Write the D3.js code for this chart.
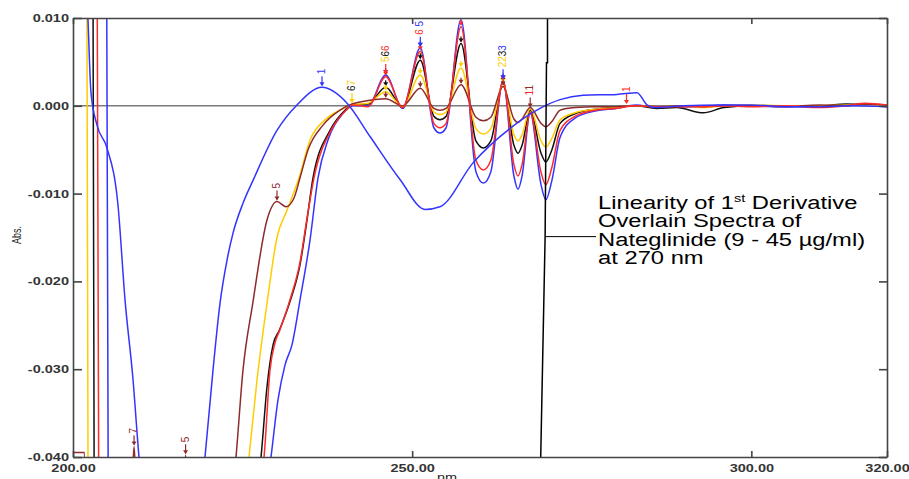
<!DOCTYPE html>
<html>
<head>
<meta charset="utf-8">
<script src="https://cdn.jsdelivr.net/npm/d3@7"></script>
<style>
  body { margin: 0; background: #fff; }
  svg { display: block; }
</style>
</head>
<body>
<div id="chart"></div>
<script>
// [wavelength nm, absorbance]
const blueSpec = [
  [200, 0.03], [204.9, 0.03], [205.3, -0.07], [215, -0.09],
  [229.19, -0.0400], [230.22, -0.0335], [231.26, -0.0295], [232.29, -0.0272], [233.47, -0.0221], [234.94, -0.0153],
  [236.12, -0.0082], [237.59, -0.0039], [239.66, -0.0010], [241.3, 0.0000],
  [243.5, 0.0000], [246.1, 0.0035], [248.6, -0.0003], [251.2, 0.0066],
  [253.2, -0.0025], [254.1, -0.0031], [255.0, -0.0025], [257.2, 0.0098],
  [259.4, -0.0075], [260.5, -0.0088], [261.6, -0.0075], [263.4, 0.0029],
  [265.0, -0.0080], [265.6, -0.0095], [266.2, -0.0080], [267.4, -0.0008],
  [269.0, -0.0090], [269.7, -0.0107], [270.6, -0.0085], [271.8, -0.0036],
  [274, -0.0014], [277, -0.0006], [280, -0.0003],
  [283, 0.0001], [286, -0.0002], [290, -0.0001], [293, -0.0001], [296, 0.0001], [300, 0.0000],
  [305, -0.0001], [310, -0.0001], [315, 0.0001], [320, -0.0001]
];

const redSpec = [
  [200, 0.03], [203.5, 0.03], [203.9, -0.07], [215, -0.09],
  [228.16, -0.0400], [229.04, -0.0301], [229.78, -0.0270], [230.51, -0.0255], [231.99, -0.0221], [233.47, -0.0178],
  [234.5, -0.0128], [235.53, -0.0082], [238.04, -0.0028], [240.25, -0.0005], [241.28, 0.0001],
  [243.5, -0.0001], [246.1, 0.0033], [248.6, -0.0002], [251.2, 0.0062],
  [253.2, -0.0020], [254.1, -0.0025], [255.0, -0.0020], [257.2, 0.0090],
  [259.4, -0.0062], [260.5, -0.0073], [261.6, -0.0062], [263.4, 0.0028],
  [265.0, -0.0067], [265.6, -0.0080], [266.2, -0.0067], [267.4, -0.0007],
  [269.0, -0.0076], [269.7, -0.0090], [270.6, -0.0070], [271.8, -0.0028],
  [274, -0.0012], [277, -0.0005], [280, -0.0003],
  [283, 0.0000], [286, -0.0001], [290, -0.0001], [293, -0.0001], [296, 0.0000], [300, -0.0001],
  [305, 0.0000], [310, -0.0002], [314, 0.0000], [316.8, 0.0003], [320, 0.0001]
];

const blackSpec = [
  [200, 0.03], [202.9, 0.03], [203.2, -0.07], [215, -0.09],
  [227.72, -0.0400], [228.6, -0.0320], [229.5, -0.0272], [230.4, -0.0256], [231.99, -0.0223], [233.47, -0.0181],
  [234.5, -0.0130], [235.38, -0.0082], [237.89, -0.0028], [240.1, -0.0005], [241.13, 0.0001],
  [243.5, 0.0002], [246.1, 0.0021], [248.6, -0.0002], [251.2, 0.0052],
  [253.2, -0.0012], [254.1, -0.0016], [255.0, -0.0012], [257.2, 0.0071],
  [259.4, -0.0040], [260.5, -0.0048], [261.6, -0.0040], [263.4, 0.0026],
  [265.0, -0.0045], [265.6, -0.0054], [266.2, -0.0045], [267.4, -0.0005],
  [269.0, -0.0054], [269.7, -0.0064], [270.6, -0.0050], [271.8, -0.0020],
  [274, -0.0009], [277, -0.0004], [280, -0.0002],
  [283, 0.0000], [286, -0.0003], [289, -0.0002], [292.9, -0.0008], [296, -0.0002], [300, 0.0000],
  [305, 0.0000], [310, 0.0000], [314, 0.0002], [320, 0.0000]
];

const yellowSpec = [
  [200, 0.03], [202.0, 0.03], [202.3, -0.07], [214, -0.09],
  [225.95, -0.0400], [227.13, -0.0312], [228.6, -0.0225], [230.07, -0.0150], [231.55, -0.0119], [233.32, -0.0082],
  [234.94, -0.0039], [237.15, -0.0016], [239.36, -0.0005], [241.13, 0.0001],
  [243.5, 0.0003], [246.1, 0.0016], [248.6, -0.0001], [251.2, 0.0035],
  [253.2, -0.0007], [254.1, -0.0010], [255.0, -0.0007], [257.2, 0.0043],
  [259.4, -0.0026], [260.5, -0.0032], [261.6, -0.0026], [263.4, 0.0025],
  [265.0, -0.0033], [265.6, -0.0040], [266.2, -0.0033], [267.4, -0.0003],
  [269.0, -0.0040], [269.7, -0.0047], [270.6, -0.0037], [271.8, -0.0016],
  [274, -0.0008], [277, -0.0004], [280, -0.0002],
  [283, 0.0000], [286, -0.0001], [290, 0.0000], [293, -0.0002], [296, 0.0000], [300, 0.0001],
  [305, 0.0000], [310, 0.0000], [315, 0.0001], [320, 0.0000]
];

const brownSpec = [
  [200, -0.0395], [201.7, -0.0395], [201.9, -0.07], [206, -0.06], [208.6, -0.045], [209.0, -0.0388], [209.4, -0.045],
  [212, -0.06], [216.2, -0.045], [216.6, -0.0398], [217, -0.045], [220, -0.06],
  [224.03, -0.0400], [225.06, -0.0301], [226.5, -0.0225], [228.6, -0.0130], [230.07, -0.0109], [231.4, -0.0115],
  [232.58, -0.0105], [233.47, -0.0082], [234.65, -0.0050], [236.86, -0.0022], [239.36, -0.0005], [241.13, 0.0002],
  [243.5, 0.0006], [246.1, 0.0008], [248.6, 0.0000], [251.2, 0.0020],
  [253.2, -0.0003], [254.1, -0.0005], [255.0, -0.0003], [257.2, 0.0024],
  [259.4, -0.0013], [260.5, -0.0017], [261.6, -0.0013], [263.4, 0.0022],
  [265.0, -0.0015], [265.6, -0.0019], [266.2, -0.0015], [267.4, -0.0002],
  [269.0, -0.0020], [269.7, -0.0024], [270.6, -0.0018], [271.8, -0.0005],
  [274, -0.0002], [277, -0.0001], [280, -0.0001],
  [283, 0.0000], [286, -0.0001], [290, 0.0000], [293, -0.0001], [296, 0.0000], [300, 0.0000],
  [305, -0.0001], [310, 0.0001], [314, 0.0000], [316, 0.0002], [320, 0.0001]
];

// the broad blue trace with its maximum near 237 nm
const oddSpec = [
  [201.0, 0.03], [202.2, 0.010], [202.65, 0.0015], [203.54, -0.0022], [205.01, -0.0048], [206.63, -0.0113],
  [207.67, -0.0221], [208.85, -0.0312], [209.73, -0.0400], [212, -0.052], [215, -0.056], [218, -0.05],
  [219.46, -0.0400], [220.64, -0.0301], [221.67, -0.0225], [222.7, -0.0176], [223.59, -0.0145], [225.06, -0.0111],
  [226.54, -0.0085], [230.07, -0.0028], [233.02, 0.0001], [236.71, 0.0021], [240.4, 0.0003], [243.79, -0.0035],
  [248.21, -0.0084], [251.9, -0.0118], [254.1, -0.0115], [258.97, -0.0065], [264.72, -0.0024], [268.85, -0.0003],
  [271.8, 0.0007], [275.19, 0.0012], [280.2, 0.0013], [283.15, 0.0015], [284.62, 0.0001], [285.8, -0.0002],
  [290, 0.0000], [295, 0.0001], [300, 0.0001], [305, -0.0001], [310, -0.0001], [315, 0.0000], [320, -0.0001]
];

// peak pick labels: wavelength, value, text and the trace each character belongs to
const peakLabels = [
  { wl: 236.71, v: 0.0021, text: "1", keys: ["odd"] },
  { wl: 281.6, v: 0.0001, text: "1", keys: ["red"] },
  { wl: 230.07, v: -0.0109, text: "5", keys: ["brown"] },
  { wl: 209.0, v: -0.0388, text: "7", keys: ["brown"] },
  { wl: 216.6, v: -0.0398, text: "5", keys: ["brown"] },
  { wl: 241.13, v: 0.0002, text: "67", keys: ["black", "yellow"] },
  { wl: 246.1, v: 0.0035, text: "566", keys: ["yellow", "black", "red"] },
  { wl: 251.2, v: 0.0066, text: "6 5", keys: ["red", "red", "blue"] },
  { wl: 263.4, v: 0.0029, text: "2233", keys: ["yellow", "yellow", "black", "blue"] },
  { wl: 267.4, v: -0.0003, text: "11", keys: ["red", "brown"] }
];
const peakWls = [246.1, 251.2, 257.2, 263.4];

const xTicks = [200, 250, 300, 320];
const yTicks = [0.010, 0.000, -0.010, -0.020, -0.030, -0.040];
const noteLines = ["Linearity of 1", "Overlain Spectra of", "Nateglinide (9 - 45 µg/ml)", "at 270 nm"];

const colors = {
  blue: "#3434ff", red: "#ff2a2a", black: "#111111",
  yellow: "#ffcc00", brown: "#8e2b2b", odd: "#3434ff"
};
const series = [
  { key: "blue", pts: blueSpec },
  { key: "black", pts: blackSpec },
  { key: "yellow", pts: yellowSpec },
  { key: "brown", pts: brownSpec },
  { key: "red", pts: redSpec },
  { key: "odd", pts: oddSpec }
];

const W = 909, H = 479;
const margin = { top: 18, right: 22, bottom: 22, left: 73 };
const stretch = 1.32; // the original figure is stretched sideways
const font = "Arial, 'Liberation Sans', sans-serif";

const svg = d3.select("#chart").append("svg")
  .attr("width", W)
  .attr("height", H);

const x = d3.scaleLinear().domain([200, 320]).range([margin.left, W - margin.right]);
const y = d3.scaleLinear().domain([-0.040, 0.010]).range([H - margin.bottom, margin.top]);

svg.append("clipPath").attr("id", "plot")
  .append("rect")
  .attr("x", margin.left).attr("y", margin.top)
  .attr("width", W - margin.left - margin.right)
  .attr("height", H - margin.top - margin.bottom);

const plot = svg.append("g").attr("clip-path", "url(#plot)");

// zero line
plot.append("line")
  .attr("x1", x(200)).attr("x2", x(320))
  .attr("y1", y(0)).attr("y2", y(0))
  .attr("stroke", "#7a7a7a").attr("stroke-width", 1.6);

const line = d3.line()
  .x(d => x(d[0]))
  .y(d => y(d[1]))
  .curve(d3.curveMonotoneX);

plot.selectAll(".spec")
  .data(series)
  .enter()
  .append("path")
  .attr("class", "spec")
  .attr("d", d => line(d.pts))
  .attr("fill", "none")
  .attr("stroke", d => colors[d.key])
  .attr("stroke-width", 1.5)
  .attr("stroke-linejoin", "round");

// small peak arrows on each trace of the series
function arrow(g, px, py, color, len) {
  g.append("line")
    .attr("x1", px).attr("x2", px)
    .attr("y1", py - len).attr("y2", py - 2)
    .attr("stroke", color).attr("stroke-width", 1.2);
  g.append("path")
    .attr("d", `M${px - 2.5},${py - 5}L${px + 2.5},${py - 5}L${px},${py - 1}Z`)
    .attr("fill", color);
}

series.filter(s => s.key !== "odd").forEach(s => {
  s.pts.filter(p => peakWls.includes(p[0])).forEach(p => {
    arrow(plot, x(p[0]), y(p[1]), colors[s.key], 7);
  });
});

peakLabels.forEach(lb => {
  const px = x(lb.wl), py = y(lb.v);
  arrow(plot, px, py, colors[lb.keys[lb.keys.length - 1]], 11);
  const t = plot.append("text")
    .attr("transform", `translate(${px + 3},${py - 13}) rotate(-90)`)
    .attr("font-family", font)
    .attr("font-size", 10);
  lb.text.split("").forEach((ch, i) => {
    t.append("tspan").text(ch).attr("fill", colors[lb.keys[i]]);
  });
});

// 270 nm marker line and the note
const marker = [[269.95, 0.010], [269.95, 0.0049], [269.8, 0.0049], [269.6, -0.0149], [268.95, -0.040]];
svg.append("path")
  .attr("d", d3.line().x(d => x(d[0])).y(d => y(d[1]))(marker))
  .attr("fill", "none").attr("stroke", "#000").attr("stroke-width", 1.5);
svg.append("line")
  .attr("x1", x(269.6)).attr("x2", x(277.1))
  .attr("y1", y(-0.0149)).attr("y2", y(-0.0149))
  .attr("stroke", "#000").attr("stroke-width", 1);

const note = svg.append("g")
  .attr("transform", `translate(${x(277.4)},0) scale(${stretch},1)`)
  .attr("font-family", font)
  .attr("font-size", 18)
  .attr("fill", "#000");
noteLines.forEach((s, i) => {
  const t = note.append("text").attr("x", 0).attr("y", 209 + i * 18.5).text(s);
  if (i === 0) {
    t.append("tspan").attr("dy", -7).attr("font-size", 11).text("st");
    t.append("tspan").attr("dy", 7).text(" Derivative");
  }
});

// axes: full box with inward ticks
function widen(g) {
  g.selectAll("text").each(function () {
    const t = d3.select(this);
    const tx = +t.attr("x") || 0;
    t.attr("transform", `translate(${tx},0) scale(${stretch},1) translate(${-tx},0)`);
  });
}
function styleAxis(g) {
  g.select(".domain").attr("stroke", "#444").attr("stroke-width", 1.6);
  g.selectAll(".tick line").attr("stroke", "#444").attr("stroke-width", 1.6);
  g.selectAll("text")
    .attr("font-family", font)
    .attr("font-size", 11)
    .attr("font-weight", "bold")
    .attr("fill", "#333");
}

svg.append("g")
  .attr("transform", `translate(${margin.left},0)`)
  .call(d3.axisLeft(y).tickValues(yTicks).tickFormat(d => d.toFixed(3))
    .tickSizeInner(-9).tickSizeOuter(0).tickPadding(4))
  .call(styleAxis)
  .call(widen);

svg.append("g")
  .attr("transform", `translate(${W - margin.right},0)`)
  .call(d3.axisRight(y).tickValues(yTicks).tickFormat("").tickSizeInner(-8).tickSizeOuter(0))
  .call(styleAxis);

svg.append("g")
  .attr("transform", `translate(0,${H - margin.bottom})`)
  .call(d3.axisBottom(x).tickValues(xTicks).tickFormat(d => d.toFixed(2))
    .tickSizeInner(-6).tickSizeOuter(0).tickPadding(7))
  .call(styleAxis)
  .call(widen);

svg.append("g")
  .attr("transform", `translate(0,${margin.top})`)
  .call(d3.axisTop(x).tickValues(xTicks).tickFormat("").tickSizeInner(-6).tickSizeOuter(0))
  .call(styleAxis);

// axis titles
svg.append("text")
  .attr("transform", `translate(21,235) scale(${stretch},1) rotate(-90)`)
  .attr("text-anchor", "middle")
  .attr("font-family", font)
  .attr("font-size", 9)
  .attr("fill", "#222")
  .text("Abs.");

svg.append("text")
  .attr("transform", `translate(447,481) scale(${stretch},1)`)
  .attr("text-anchor", "middle")
  .attr("font-family", font)
  .attr("font-size", 11)
  .attr("fill", "#222")
  .text("nm");
</script>
</body>
</html>
